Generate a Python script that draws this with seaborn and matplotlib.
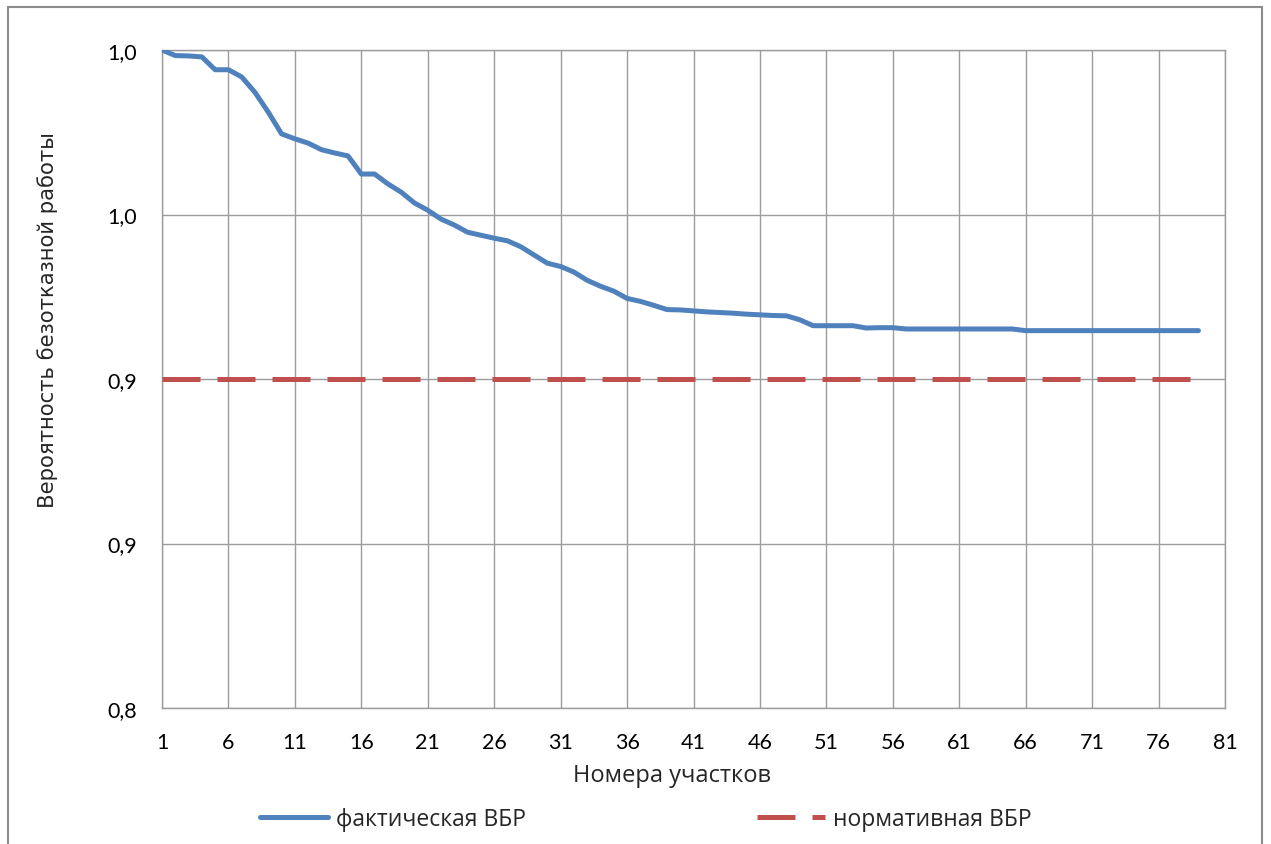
import matplotlib
matplotlib.use("Agg")
import matplotlib.pyplot as plt
import matplotlib.patches as mpatches
from matplotlib.lines import Line2D
import seaborn as sns
import pandas as pd

# ---- data ----
sections = list(range(1, 80))
fact_vbr = [
    1.0000, 0.9983, 0.9982, 0.9979, 0.9940, 0.9940, 0.9918, 0.9871, 0.9811, 0.9745,
    0.9730, 0.9717, 0.9697, 0.9687, 0.9678, 0.9623, 0.9623, 0.9593, 0.9568, 0.9535,
    0.9513, 0.9486, 0.9468, 0.9446, 0.9437, 0.9428, 0.9420, 0.9402, 0.9377, 0.9352,
    0.9342, 0.9325, 0.9300, 0.9282, 0.9267, 0.9245, 0.9236, 0.9224, 0.9211, 0.9210,
    0.9207, 0.9204, 0.9202, 0.9200, 0.9197, 0.9195, 0.9193, 0.9192, 0.9180, 0.9162,
    0.9162, 0.9162, 0.9162, 0.9155, 0.9156, 0.9156, 0.9152, 0.9152, 0.9152, 0.9152,
    0.9152, 0.9152, 0.9152, 0.9152, 0.9152, 0.9147, 0.9147, 0.9147, 0.9147, 0.9147,
    0.9147, 0.9147, 0.9147, 0.9147, 0.9147, 0.9147, 0.9147, 0.9147, 0.9147,
]
norm_vbr = [
    0.90, 0.90, 0.90, 0.90, 0.90, 0.90, 0.90, 0.90, 0.90, 0.90,
    0.90, 0.90, 0.90, 0.90, 0.90, 0.90, 0.90, 0.90, 0.90, 0.90,
    0.90, 0.90, 0.90, 0.90, 0.90, 0.90, 0.90, 0.90, 0.90, 0.90,
    0.90, 0.90, 0.90, 0.90, 0.90, 0.90, 0.90, 0.90, 0.90, 0.90,
    0.90, 0.90, 0.90, 0.90, 0.90, 0.90, 0.90, 0.90, 0.90, 0.90,
    0.90, 0.90, 0.90, 0.90, 0.90, 0.90, 0.90, 0.90, 0.90, 0.90,
    0.90, 0.90, 0.90, 0.90, 0.90, 0.90, 0.90, 0.90, 0.90, 0.90,
    0.90, 0.90, 0.90, 0.90, 0.90, 0.90, 0.90, 0.90, 0.90,
]
x_ticks = [1, 6, 11, 16, 21, 26, 31, 36, 41, 46, 51, 56, 61, 66, 71, 76, 81]
y_ticks = [0.80, 0.85, 0.90, 0.95, 1.00]
y_tick_labels = ["0,8", "0,9", "0,9", "1,0", "1,0"]
series_names = ["фактическая ВБР", "нормативная ВБР"]
x_label = "Номера участков"
y_label = "Вероятность безотказной работы"

df = pd.DataFrame({"x": sections, "fact": fact_vbr, "norm": norm_vbr})

# ---- style ----
sns.set_style("white")
plt.rcParams["font.family"] = ["Lato", "DejaVu Sans"]
TEXT_FONT = ["Open Sans", "DejaVu Sans"]

BLUE = "#4F81BD"
RED = "#C0504D"
GRID = "#9C9C9C"

W, H = 1271, 845
fig = plt.figure(figsize=(W / 100, H / 100), dpi=100)
L, R, T, B = 162, 1225, 51, 709
ax = fig.add_axes([L / W, 1 - B / H, (R - L) / W, (B - T) / H])

sns.lineplot(data=df, x="x", y="fact", ax=ax, color=BLUE, lw=3.6,
             solid_joinstyle="round", solid_capstyle="round", zorder=4)
sns.lineplot(data=df, x="x", y="norm", ax=ax, color=RED, lw=3.6,
             dashes=False, zorder=3)
ax.lines[1].set_dashes((7.6, 3.4))
ax.lines[1].set_dash_capstyle("butt")

ax.set_xlim(1, 81)
ax.set_ylim(0.80, 1.00)
ax.set_xticks(x_ticks)
ax.set_xticklabels([str(t) for t in x_ticks])
ax.set_yticks(y_ticks)
ax.set_yticklabels(y_tick_labels)

ax.grid(True, color=GRID, lw=1.0)
for s in ax.spines.values():
    s.set_visible(True)
    s.set_color(GRID)
    s.set_linewidth(1.0)

ax.tick_params(axis="both", direction="out", length=5, width=1.0, color=GRID,
               labelsize=15.5, labelcolor="black")
ax.tick_params(axis="y", pad=13)
ax.tick_params(axis="x", pad=12)

ax.set_xlabel(x_label, fontsize=17, family=TEXT_FONT)
ax.xaxis.set_label_coords((672 - L) / (R - L), -(776 - B) / (B - T))
ax.xaxis.label.set_va("center")
ax.xaxis.label.set_ha("center")

ax.set_ylabel(y_label, fontsize=15.2, family=["DejaVu Sans"])
ax.yaxis.set_label_coords(-(L - 48) / (R - L), 1 - (320 - T) / (B - T))
ax.yaxis.label.set_va("center")
ax.yaxis.label.set_ha("center")

handles = [
    Line2D([0], [0], color=BLUE, lw=3.6, solid_capstyle="round"),
    Line2D([0], [0], color=RED, lw=3.6, dashes=(7.6, 3.4)),
]
fig.legend(handles, series_names, loc="center", ncol=2,
           bbox_to_anchor=(646 / W, 1 - 820 / H), frameon=False,
           prop={"family": TEXT_FONT, "size": 16.5},
           handlelength=2.95, handletextpad=0.35, columnspacing=10.1)

border = mpatches.Rectangle((8 / W, -0.02), (1262 - 8) / W, 1 - 8 / H + 0.02,
                            transform=fig.transFigure, fill=False,
                            edgecolor="#8C8C8C", lw=1.5)
fig.patches.append(border)

fig.savefig("out.png", dpi=100)
